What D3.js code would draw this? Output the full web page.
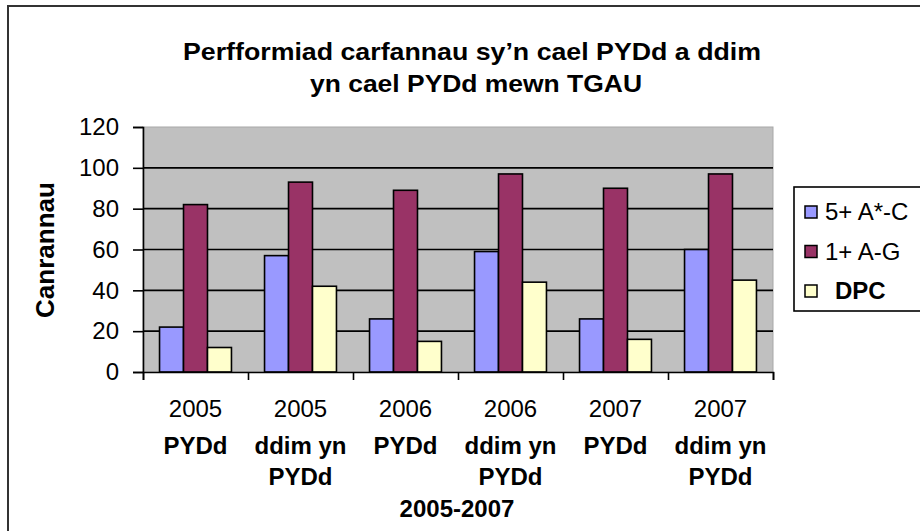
<!DOCTYPE html>
<html>
<head>
<meta charset="utf-8">
<script src="https://cdn.jsdelivr.net/npm/d3@7"></script>
<style>
  body { margin: 0; background: #fff; }
  svg { display: block; font-family: "Liberation Sans", Arial, sans-serif; }
</style>
</head>
<body>
<svg id="chart" width="920" height="531"></svg>
<script>
// categories: year + cohort (second part is split onto extra lines)
var years = ["2005", "2005", "2006", "2006", "2007", "2007"];
var cohorts = [["PYDd"], ["ddim yn", "PYDd"], ["PYDd"], ["ddim yn", "PYDd"], ["PYDd"], ["ddim yn", "PYDd"]];
var seriesNames = ["5+ A*-C", "1+ A-G", "DPC"];
var pass5AC = [22, 57, 26, 59, 26, 60];
var pass1AG = [82, 93, 89, 97, 90, 97];
var dpc = [12, 42, 15, 44, 16, 45];
var yTicks = [0, 20, 40, 60, 80, 100, 120];

var pal = ["#9999FF", "#993366", "#FFFFCC"];
var values = [pass5AC, pass1AG, dpc];

var svg = d3.select("#chart");

// outer chart frame (cropped at right/bottom)
svg.append("rect")
  .attr("x", 8).attr("y", 6)
  .attr("width", 930).attr("height", 540)
  .attr("fill", "#fff")
  .attr("stroke", "#333").attr("stroke-width", 2);

var pLeft = 143, pRight = 773, pTop = 127, pBottom = 372;

var x0 = d3.scaleBand()
  .domain(d3.range(years.length))
  .range([pLeft, pRight]);

var x1 = d3.scaleBand()
  .domain(d3.range(seriesNames.length))
  .range([0, x0.bandwidth()])
  .paddingOuter(0.69);

var y = d3.scaleLinear().domain([0, 120]).range([pBottom, pTop]);

// plot area
svg.append("rect")
  .attr("x", pLeft).attr("y", pTop)
  .attr("width", pRight - pLeft).attr("height", pBottom - pTop)
  .attr("fill", "#C0C0C0")
  .attr("stroke", "#a8a8a8").attr("stroke-width", 1);

// gridlines
svg.append("g")
  .selectAll("line")
  .data(yTicks.filter((d) => (d > 0 && d < 120)))
  .enter()
  .append("line")
  .attr("x1", pLeft).attr("x2", pRight)
  .attr("y1", (d) => y(d)).attr("y2", (d) => y(d))
  .attr("stroke", "#000").attr("stroke-width", 1.6);

// bars
var rows = d3.range(years.length).map((i) => values.map((v, s) => ({cat: i, s: s, v: v[i]})));

svg.append("g")
  .selectAll("g")
  .data(rows)
  .enter()
  .append("g")
  .attr("transform", (d, i) => "translate(" + x0(i) + ",0)")
  .selectAll("rect")
  .data((d) => d)
  .enter()
  .append("rect")
  .attr("x", (d) => x1(d.s))
  .attr("y", (d) => y(d.v))
  .attr("width", x1.bandwidth())
  .attr("height", (d) => y(0) - y(d.v))
  .attr("fill", (d) => pal[d.s])
  .attr("stroke", "#000")
  .attr("stroke-width", 1.6);

// y axis
var yAxis = d3.axisLeft(y)
  .tickValues(yTicks)
  .tickSize(10)
  .tickPadding(14);

var gy = svg.append("g")
  .attr("transform", "translate(" + pLeft + ",0)")
  .call(yAxis);
gy.select(".domain").attr("stroke", "#000").attr("stroke-width", 1.6);
gy.selectAll(".tick line").attr("stroke", "#000").attr("stroke-width", 1.6);
gy.selectAll(".tick text")
  .style("font-size", "24px")
  .style("font-family", "Liberation Sans, Arial, sans-serif")
  .attr("fill", "#000");

// x axis
var xAxis = d3.axisBottom(d3.scaleLinear().domain([0, years.length]).range([pLeft, pRight]))
  .tickValues(d3.range(years.length + 1))
  .tickSize(8)
  .tickFormat("");

var gx = svg.append("g")
  .attr("transform", "translate(0," + pBottom + ")")
  .call(xAxis);
gx.select(".domain").attr("stroke", "#000").attr("stroke-width", 1.6);
gx.selectAll(".tick line").attr("stroke", "#000").attr("stroke-width", 1.6);

// category labels
var cx = (i) => x0(i) + x0.bandwidth() / 2;

svg.append("g")
  .selectAll("text")
  .data(years)
  .enter()
  .append("text")
  .attr("x", (d, i) => cx(i))
  .attr("y", 417)
  .attr("text-anchor", "middle")
  .style("font-size", "24px")
  .text((d) => d);

svg.append("g")
  .selectAll("text")
  .data(cohorts)
  .enter()
  .append("text")
  .attr("x", (d, i) => cx(i))
  .attr("y", 454)
  .attr("text-anchor", "middle")
  .style("font-size", "24px")
  .style("font-weight", "bold")
  .selectAll("tspan")
  .data((d) => d)
  .enter()
  .append("tspan")
  .attr("x", function() { return d3.select(this.parentNode).attr("x"); })
  .attr("dy", (d, j) => (j === 0 ? 0 : 31))
  .text((d) => d);

svg.append("text")
  .attr("x", 457).attr("y", 517)
  .attr("text-anchor", "middle")
  .style("font-size", "24px")
  .style("font-weight", "bold")
  .text("2005-2007");

// axis title
svg.append("text")
  .attr("transform", "translate(54,250) rotate(-90)")
  .attr("text-anchor", "middle")
  .style("font-size", "26px")
  .style("font-weight", "bold")
  .text("Canrannau");

// title
svg.append("text")
  .attr("x", 472).attr("y", 60)
  .attr("text-anchor", "middle")
  .attr("textLength", 578)
  .attr("lengthAdjust", "spacingAndGlyphs")
  .style("font-size", "24px")
  .style("font-weight", "bold")
  .text("Perfformiad carfannau sy\u2019n cael PYDd a ddim");

svg.append("text")
  .attr("x", 476).attr("y", 92)
  .attr("text-anchor", "middle")
  .attr("textLength", 332)
  .attr("lengthAdjust", "spacingAndGlyphs")
  .style("font-size", "24px")
  .style("font-weight", "bold")
  .text("yn cael PYDd mewn TGAU");

// legend
var lg = svg.append("g");
lg.append("rect")
  .attr("x", 794).attr("y", 187)
  .attr("width", 140).attr("height", 124)
  .attr("fill", "#fff")
  .attr("stroke", "#000").attr("stroke-width", 1.6);

var items = lg.selectAll("g.item")
  .data(seriesNames)
  .enter()
  .append("g")
  .attr("class", "item")
  .attr("transform", (d, i) => "translate(805," + (212 + i * 39.5) + ")");

items.append("rect")
  .attr("x", 0).attr("y", -6)
  .attr("width", 12).attr("height", 12)
  .attr("fill", (d, i) => pal[i])
  .attr("stroke", "#000").attr("stroke-width", 1.5);

items.append("text")
  .attr("x", (d, i) => (i === 2 ? 30 : 20))
  .attr("y", 8)
  .style("font-size", "24px")
  .style("font-weight", (d, i) => (i === 2 ? "bold" : "normal"))
  .text((d) => d);
</script>
</body>
</html>
